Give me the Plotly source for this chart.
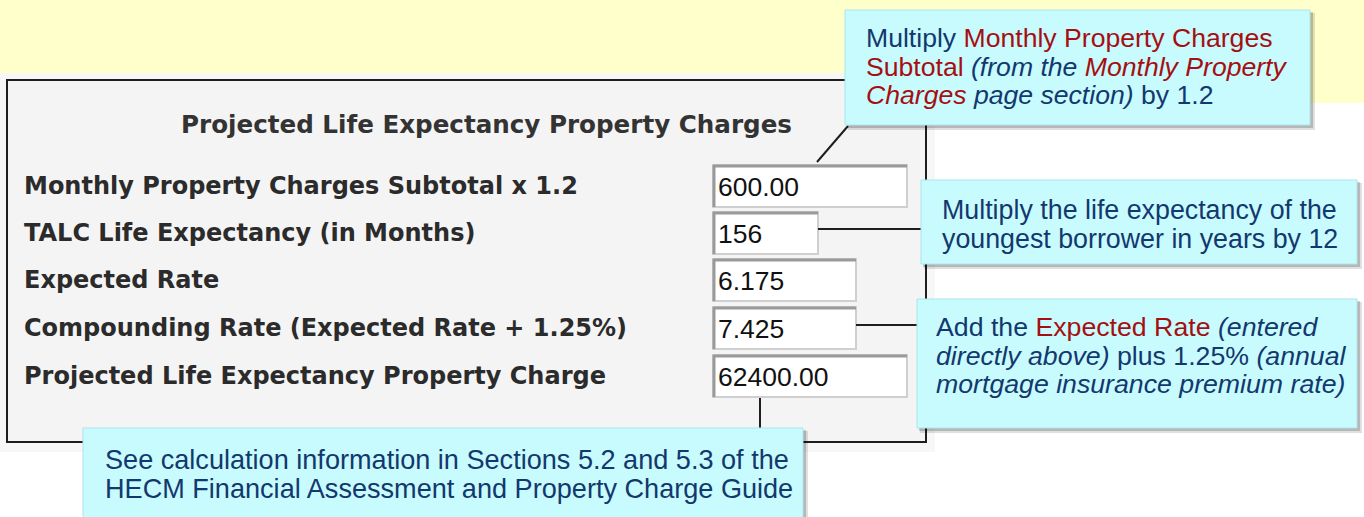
import plotly.graph_objects as go

# ---------------- data ----------------
title_text = "Projected Life Expectancy Property Charges"
field_labels = [
    "Monthly Property Charges Subtotal x 1.2",
    "TALC Life Expectancy (in Months)",
    "Expected Rate",
    "Compounding Rate (Expected Rate + 1.25%)",
    "Projected Life Expectancy Property Charge",
]
field_values = ["600.00", "156", "6.175", "7.425", "62400.00"]

BLUE = "#13386e"
RED = "#a50f12"

def red(t):
    return f"<span style='color:{RED}'>{t}</span>"

callout1_lines = [
    "Multiply " + red("Monthly Property Charges"),
    red("Subtotal") + " <i>(from the </i>" + red("<i>Monthly Property</i>"),
    red("<i>Charges</i>") + "<i> page section)</i> by 1.2",
]
callout2_lines = [
    "Multiply the life expectancy of the",
    "youngest borrower in years by 12",
]
callout3_lines = [
    "Add the " + red("Expected Rate") + " <i>(entered</i>",
    "<i>directly above)</i> plus 1.25% <i>(annual</i>",
    "<i>mortgage insurance premium rate)</i>",
]
callout4_lines = [
    "See calculation information in Sections 5.2 and 5.3 of the",
    "HECM Financial Assessment and Property Charge Guide",
]

# ---------------- layout geometry ----------------
W, H = 1364, 517
row_y = [186, 233, 280, 328, 376]
input_x0 = 713
input_x1 = [907, 818, 856, 856, 907]
input_half_h = 21

shapes = []
annotations = []

def rect(x0, y0, x1, y1, fill, line_color=None, lw=0, layer="above"):
    shapes.append(dict(type="rect", xref="x", yref="y", x0=x0, y0=y0, x1=x1, y1=y1,
                       fillcolor=fill, line=dict(color=line_color or fill, width=lw), layer=layer))

def line(x0, y0, x1, y1, color="#1e1e1e", lw=2):
    shapes.append(dict(type="line", xref="x", yref="y", x0=x0, y0=y0, x1=x1, y1=y1,
                       line=dict(color=color, width=lw), layer="above"))

def text(x, y, t, size, color, family, bold=False, anchor="left"):
    if bold:
        t = "<b>" + t + "</b>"
    annotations.append(dict(x=x, y=y, xref="x", yref="y", text=t, showarrow=False,
                            xanchor=anchor, yanchor="middle",
                            font=dict(size=size, color=color, family=family)))

# background
rect(0, 0, W, 103, "#ffffcc")
rect(0, 73, 935, 452, "#f7f7f7")
# main box
rect(7, 80, 926, 442, "#f4f4f4", "#1e1e1e", 2)

LABEL_FONT = "DejaVu Sans"
text(486, 124, title_text, 24.6, "#333333", LABEL_FONT, bold=True, anchor="center")
for lbl, yy in zip(field_labels, row_y):
    text(22, yy, lbl, 24, "#2b2b2b", LABEL_FONT, bold=True)

# input boxes
for val, yy, x1 in zip(field_values, row_y, input_x1):
    y0, y1 = yy - input_half_h, yy + input_half_h
    rect(input_x0, y0, x1, y1, "#ffffff", "#cfcfcf", 2)
    line(input_x0, y0 + 1, x1, y0 + 1, "#9a9a9a", 3)
    line(input_x0 + 1, y0, input_x0 + 1, y1, "#9a9a9a", 3)
    text(input_x0 + 3, yy + 1, val, 26.5, "#111111", "Liberation Sans")

# connectors
line(848, 126, 817, 162)
line(818, 229, 922, 229)
line(856, 325, 918, 325)
line(760, 398, 760, 430)

CALLOUT_FONT = "Liberation Sans"

def callout(x0, y0, x1, y1, lines, tx, ty0, dy, size):
    # soft shadow
    rect(x0 + 3, y0 + 3, x1 + 5, y1 + 5, "rgba(0,0,0,0.12)")
    rect(x0 + 2, y0 + 2, x1 + 3, y1 + 3, "rgba(0,0,0,0.18)")
    rect(x0, y0, x1, y1, "#c8fbfd", "#a9e6ee", 1)
    for i, ln in enumerate(lines):
        text(tx, ty0 + i * dy, ln, size, BLUE, CALLOUT_FONT)

callout(845, 10, 1310, 125, callout1_lines, 864, 38, 28.5, 26.6)
callout(921, 180, 1357, 264, callout2_lines, 940, 210, 29, 26.8)
callout(917, 299, 1357, 428, callout3_lines, 934, 327, 28.5, 26.7)
callout(83, 428, 803, 530, callout4_lines, 103, 459, 29, 27.1)

fig = go.Figure()
fig.update_layout(
    width=W, height=H,
    margin=dict(l=0, r=0, t=0, b=0),
    paper_bgcolor="#ffffff", plot_bgcolor="#ffffff",
    xaxis=dict(range=[0, W], visible=False, fixedrange=True),
    yaxis=dict(range=[H, 0], visible=False, fixedrange=True),
    shapes=shapes, annotations=annotations, showlegend=False,
)
fig.write_html("out.html", config={"displayModeBar": False},
               post_script="document.body.style.margin='0';")
